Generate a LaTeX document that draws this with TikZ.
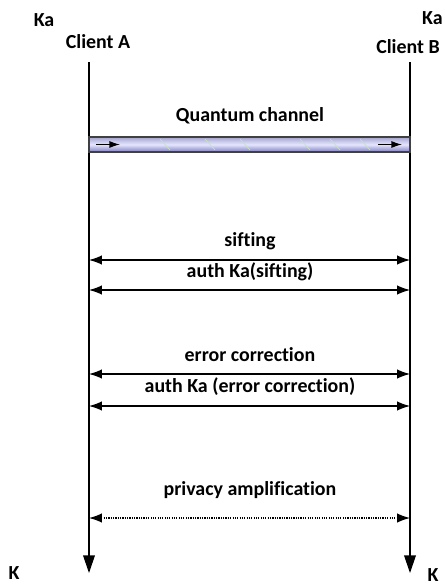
\documentclass[tikz,border=0pt]{standalone}
\usepackage{fontspec}
\setmainfont{Carlito}[Ligatures=NoCommon]
\usetikzlibrary{arrows.meta,calc}
\tikzset{
	lbl/.style={font=\bfseries\fontsize{17}{19}\selectfont, inner sep=1pt},
	msg/.style={{Latex[length=11pt,width=8pt]}-{Latex[length=11pt,width=8pt]}, line width=1pt},
	life/.style={-{Triangle[length=15pt,width=10pt]}, line width=1pt}
}

\begin{document}
\begin{tikzpicture}[x=0.03cm, y=-0.03cm]
	\useasboundingbox (0,0) rectangle (444,587);

	% parties
	\node[lbl] (kaA) at (44,20) {Ka};
	\node[lbl] (clA) at (98,42) {Client A};
	\node[lbl, anchor=east] (kaB) at (444,18) {Ka};
	\node[lbl] (clB) at (408,47) {Client B};
	\node[lbl] (kA) at (14,573) {K};
	\node[lbl] (kB) at (433,575) {K};

	\coordinate (topA) at (89,62);
	\coordinate (topB) at (410,62);
	\coordinate (endA) at (89,573);
	\coordinate (endB) at (410,573);
	\draw[life] (topA) -- (endA);
	\draw[life] (topB) -- (endB);

	% quantum channel
	\node[lbl] (qc) at (250,116) {Quantum channel};
	\coordinate (qa) at (89,137);
	\coordinate (qb) at (410,152);
	\shade[top color=blue!30!gray!55, bottom color=blue!35!gray!75, middle color=blue!10!white]
		(qa) rectangle (qb);
	\foreach \x in {160,205,240,300,330,360} {
		\draw[green!40!gray!35, line width=0.6pt] (\x,139) -- (\x+10,150);
	}
	\draw[line width=1.4pt, black!75] (qa) rectangle (qb);
	\draw[-{Latex[length=9pt,width=6pt]}, line width=1.1pt] (96,144.5) -- (120,144.5);
	\draw[-{Latex[length=9pt,width=6pt]}, line width=1.1pt] (378,144.5) -- (402,144.5);

	% classical messages
	\node[lbl] (sift) at (250,241) {sifting};
	\draw[msg] (89,260) -- (410,260);
	\node[lbl] (asift) at (250,272) {auth Ka(sifting)};
	\draw[msg] (89,290) -- (410,290);
	\node[lbl] (ec) at (250,355) {error correction};
	\draw[msg] (89,374) -- (410,374);
	\node[lbl] (aec) at (250,387) {auth Ka (error correction)};
	\draw[msg] (89,406) -- (410,406);
	\node[lbl] (pa) at (250,490) {privacy amplification};
	\draw[msg, densely dotted] (89,518) -- (410,518);
\end{tikzpicture}
\end{document}
